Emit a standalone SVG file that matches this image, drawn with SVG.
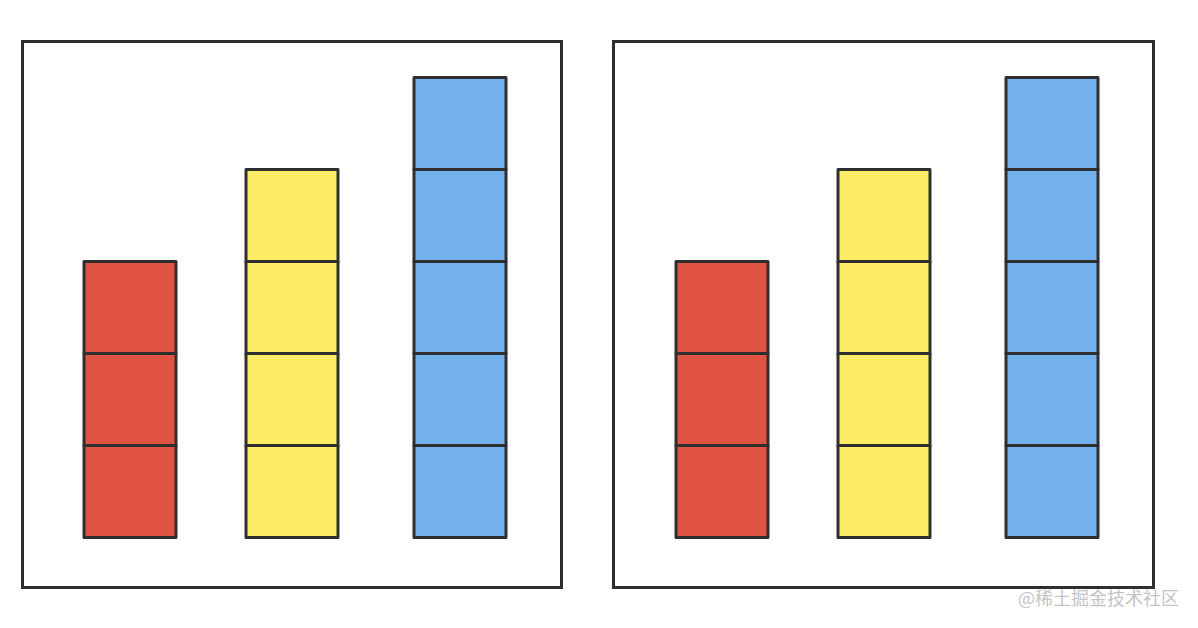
<svg xmlns="http://www.w3.org/2000/svg" width="1198" height="628" viewBox="0 0 1198 628">
<style>
.frame{fill:#fff;stroke:#2f2f2f;stroke-width:3}
.c{stroke:#2f2f2f;stroke-width:3;stroke-linejoin:round}
.r{fill:#df5340}
.y{fill:#fdeb63}
.b{fill:#72b0ee}
.wm{font-family:"Noto Sans CJK SC","Noto Sans",sans-serif;font-size:18px;fill:#c4c4c4}
</style>
<rect width="1198" height="628" fill="#fff"/>
<g id="left">
<rect class="frame" x="22.5" y="41.5" width="539" height="546"/>
<g id="left-red">
<rect class="c r" x="84" y="261.5" width="92" height="92"/>
<rect class="c r" x="84" y="353.5" width="92" height="92"/>
<rect class="c r" x="84" y="445.5" width="92" height="92"/>
</g>
<g id="left-yellow">
<rect class="c y" x="246" y="169.5" width="92" height="92"/>
<rect class="c y" x="246" y="261.5" width="92" height="92"/>
<rect class="c y" x="246" y="353.5" width="92" height="92"/>
<rect class="c y" x="246" y="445.5" width="92" height="92"/>
</g>
<g id="left-blue">
<rect class="c b" x="414" y="77.5" width="92" height="92"/>
<rect class="c b" x="414" y="169.5" width="92" height="92"/>
<rect class="c b" x="414" y="261.5" width="92" height="92"/>
<rect class="c b" x="414" y="353.5" width="92" height="92"/>
<rect class="c b" x="414" y="445.5" width="92" height="92"/>
</g>
</g>
<g id="right">
<rect class="frame" x="613.5" y="41.5" width="540" height="546"/>
<g id="right-red">
<rect class="c r" x="676" y="261.5" width="92" height="92"/>
<rect class="c r" x="676" y="353.5" width="92" height="92"/>
<rect class="c r" x="676" y="445.5" width="92" height="92"/>
</g>
<g id="right-yellow">
<rect class="c y" x="838" y="169.5" width="92" height="92"/>
<rect class="c y" x="838" y="261.5" width="92" height="92"/>
<rect class="c y" x="838" y="353.5" width="92" height="92"/>
<rect class="c y" x="838" y="445.5" width="92" height="92"/>
</g>
<g id="right-blue">
<rect class="c b" x="1006" y="77.5" width="92" height="92"/>
<rect class="c b" x="1006" y="169.5" width="92" height="92"/>
<rect class="c b" x="1006" y="261.5" width="92" height="92"/>
<rect class="c b" x="1006" y="353.5" width="92" height="92"/>
<rect class="c b" x="1006" y="445.5" width="92" height="92"/>
</g>
</g>
<text class="wm" x="1018" y="605">@稀土掘金技术社区</text>
</svg>
